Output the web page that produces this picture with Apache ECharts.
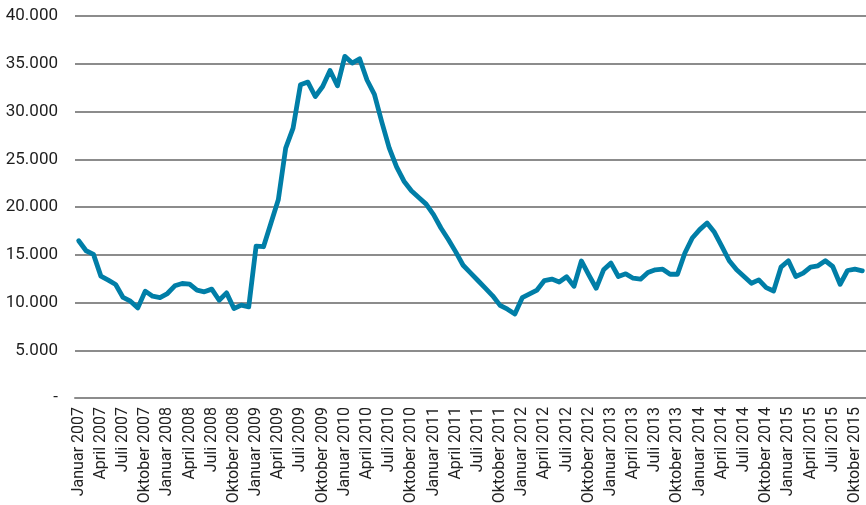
<!DOCTYPE html>
<html>
<head>
<meta charset="utf-8">
<script src="https://cdn.jsdelivr.net/npm/echarts@6/dist/echarts.min.js"></script>
<style>
html,body{margin:0;padding:0;background:#fff;}
#chart{width:866px;height:505px;}
</style>
</head>
<body>
<div id="chart"></div>
<script>
// German month names and years used to build the monthly categories (Jan 2007 – Nov 2015)
const monthNames = ["Januar","Februar","März","April","Mai","Juni","Juli","August","September","Oktober","November","Dezember"];
const years = [2007,2008,2009,2010,2011,2012,2013,2014,2015];
const monthCount = 107;

// Y axis ticks
const yTicks = [0,5000,10000,15000,20000,25000,30000,35000,40000];

// Monthly values
const values2007 = [16470,15420,15040,12760,12340,11890,10530,10140,9440,11190,10660,10520];
const values2008 = [10940,11750,11990,11920,11290,11120,11400,10240,11010,9370,9720,9540];
const values2009 = [15910,15840,18300,20750,26170,28260,32800,33080,31570,32620,34300,32690];
const values2010 = [35770,35070,35520,33300,31800,28900,26200,24200,22700,21700,21000,20300];
const values2011 = [19200,17800,16600,15300,13900,13100,12300,11500,10700,9700,9300,8800];
const values2012 = [10500,10900,11300,12300,12450,12150,12700,11700,14350,12890,11490,13420];
const values2013 = [14120,12720,13000,12540,12440,13140,13420,13490,12960,12960,15180,16750];
const values2014 = [17630,18330,17350,15880,14370,13420,12720,12020,12370,11560,11210,13700];
const values2015 = [14370,12720,13070,13700,13840,14370,13770,11910,13350,13490,13320];

const categories = [];
for (const y of years) for (const m of monthNames) categories.push(m + " " + y);
categories.length = monthCount;
const values = [].concat(values2007,values2008,values2009,values2010,values2011,values2012,values2013,values2014,values2015);

const FONT = 'Roboto,"DejaVu Sans Condensed",sans-serif';

const chart = echarts.init(document.getElementById('chart'), null, {renderer:'canvas'});
chart.setOption({
  animation:false,
  backgroundColor:'#ffffff',
  grid:{left:75, right:0, top:16, bottom:107, containLabel:false, outerBoundsMode:'none'},
  xAxis:{
    type:'category',
    data:categories,
    boundaryGap:true,
    axisLine:{show:true, lineStyle:{color:'#8c8c8c', width:2}},
    axisTick:{show:false},
    axisLabel:{interval:2, rotate:90, fontFamily:FONT, fontSize:16, color:'#1e1e1e', margin:9, padding:[5,0,0,0]}
  },
  yAxis:{
    type:'value',
    min:yTicks[0], max:yTicks[yTicks.length-1], interval:5000,
    axisLine:{show:false},
    axisTick:{show:false},
    splitLine:{show:true, lineStyle:{color:'#8c8c8c', width:2}},
    axisLabel:{
      fontFamily:FONT, fontSize:17, color:'#1e1e1e', margin:17,
      formatter:function(v){ if(v===0) return '-'; return String(v).replace(/\B(?=(\d{3})+(?!\d))/g,'.'); }
    }
  },
  series:[{
    type:'line',
    data:values,
    symbol:'none',
    smooth:false,
    lineStyle:{color:'#007ea7', width:4.8, cap:'round', join:'round'}
  }]
});
</script>
</body>
</html>
